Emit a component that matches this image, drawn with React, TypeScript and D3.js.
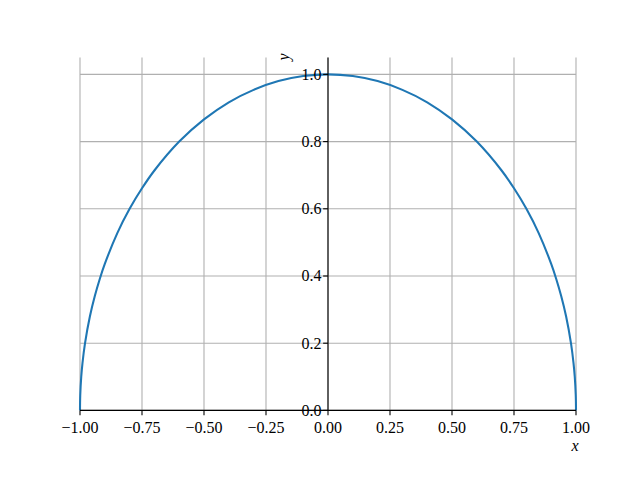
import React from "react";
import * as d3 from "d3";

const xs = [-1, -0.999, -0.995, -0.99, -0.98, -0.96, -0.94, -0.92, -0.9, -0.85, -0.8, -0.75, -0.7, -0.6, -0.5, -0.4, -0.3, -0.2, -0.1, 0,
  0.1, 0.2, 0.3, 0.4, 0.5, 0.6, 0.7, 0.75, 0.8, 0.85, 0.9, 0.92, 0.94, 0.96, 0.98, 0.99, 0.995, 0.999, 1];
const ys = [0, 0.045, 0.1, 0.141, 0.199, 0.28, 0.341, 0.392, 0.436, 0.527, 0.6, 0.661, 0.714, 0.8, 0.866, 0.917, 0.954, 0.98, 0.995, 1,
  0.995, 0.98, 0.954, 0.917, 0.866, 0.8, 0.714, 0.661, 0.6, 0.527, 0.436, 0.392, 0.341, 0.28, 0.199, 0.141, 0.1, 0.045, 0];
const xTicks = [-1, -0.75, -0.5, -0.25, 0, 0.25, 0.5, 0.75, 1];
const yTicks = [0, 0.2, 0.4, 0.6, 0.8, 1.0];

export default function App() {
  const W = 640, H = 480;
  const left = 80, right = 576, top = 57.6, bottom = 410.4;
  const x = d3.scaleLinear().domain([-1, 1]).range([left, right]);
  const y = d3.scaleLinear().domain([0, 1.05]).range([bottom, top]);
  const pts = xs.map((v, i) => [v, ys[i]] as [number, number]);
  const line = d3.line<[number, number]>().x(d => x(d[0])).y(d => y(d[1])).curve(d3.curveCatmullRom.alpha(0.5));
  const font = "'Liberation Serif', 'DejaVu Serif', serif";
  const fmtX = (v: number) => (v < 0 ? "\u2212" : "") + Math.abs(v).toFixed(2);
  const x0 = x(0);
  const yb = y(0);
  const fs = 16;
  return (
    <svg width={W} height={H} style={{ position: "absolute", left: 0, top: 0, background: "#fff" }} fontFamily={font}>
      <rect width={W} height={H} fill="#fff" />
      {xTicks.map(t => (
        <line key={"gx" + t} x1={x(t)} x2={x(t)} y1={top} y2={bottom} stroke="#b0b0b0" strokeWidth={1.1} />
      ))}
      {yTicks.map(t => (
        <line key={"gy" + t} x1={left} x2={right} y1={y(t)} y2={y(t)} stroke="#b0b0b0" strokeWidth={1.1} />
      ))}
      <path d={line(pts) || ""} fill="none" stroke="#1f77b4" strokeWidth={2.08} strokeLinejoin="round" />
      <line x1={left} x2={right} y1={yb} y2={yb} stroke="#000" strokeWidth={1.1} />
      <line x1={x0} x2={x0} y1={top} y2={bottom} stroke="#000" strokeWidth={1.1} />
      {xTicks.map(t => (
        <g key={"tx" + t}>
          <line x1={x(t)} x2={x(t)} y1={yb} y2={yb + 4.86} stroke="#000" strokeWidth={1.1} />
          <text x={x(t)} y={432.5} textAnchor="middle" fontSize={fs}>{fmtX(t)}</text>
        </g>
      ))}
      {yTicks.map(t => (
        <g key={"ty" + t}>
          <line x1={x0 - 4.86} x2={x0} y1={y(t)} y2={y(t)} stroke="#000" strokeWidth={1.1} />
          <text x={x0 - 6.5} y={y(t) + 5.3} textAnchor="end" fontSize={fs}>{t.toFixed(1)}</text>
        </g>
      ))}
      <text x={575} y={451} textAnchor="middle" fontSize={fs} fontStyle="italic">x</text>
      <text transform={`translate(289,57) rotate(-90)`} textAnchor="middle" fontSize={fs} fontStyle="italic">y</text>
    </svg>
  );
}
